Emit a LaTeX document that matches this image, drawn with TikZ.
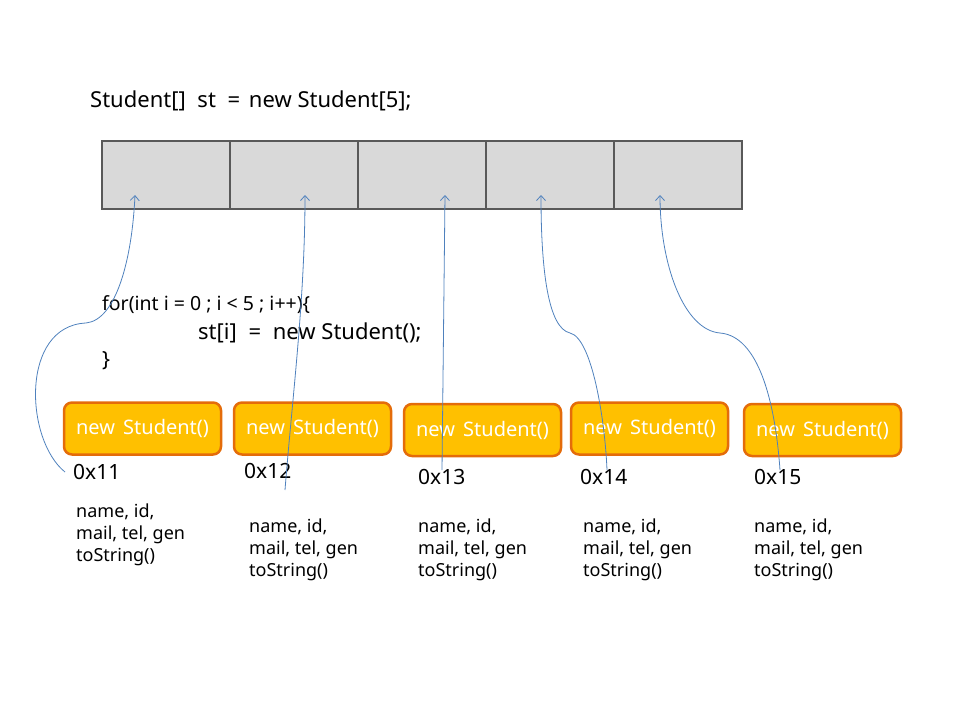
\documentclass[tikz,border=0pt]{standalone}
\usepackage{fontspec}
\setmainfont{Noto Sans}
\usetikzlibrary{arrows.meta}
\definecolor{cellfill}{RGB}{217,217,217}
\definecolor{cellborder}{RGB}{89,89,89}
\definecolor{objfill}{RGB}{255,192,0}
\definecolor{objborder}{RGB}{228,108,10}
\definecolor{refline}{RGB}{79,129,189}

\begin{document}
\begin{tikzpicture}[
                x=1pt, y=-1pt,
                >={Straight Barb[length=5pt, width=9pt]},
                codetext/.style={anchor=west, inner sep=0pt, font=\fontsize{21}{24}\selectfont},
                cell/.style={rectangle, draw=cellborder, fill=cellfill, line width=1.2pt, minimum width=128pt, minimum height=68pt, inner sep=0pt},
                objbox/.style={rectangle, rounded corners=8pt, draw=objborder, fill=objfill, line width=2.5pt, minimum width=157pt, minimum height=52pt, text=white, font=\fontsize{20}{22}\selectfont},
                addr/.style={anchor=west, inner sep=0pt, font=\fontsize{21}{24}\selectfont},
                members/.style={anchor=north west, inner sep=0pt, align=left, font=\fontsize{18}{22}\selectfont},
                ref/.style={->, draw=refline, line width=0.8pt}
                ]
                \useasboundingbox (0,0) rectangle (960,720);

                \node[codetext, font=\fontsize{22}{24}\selectfont] (decl) at (90,101) {Student[]\hspace{6pt} st\hspace{6pt} =\hspace{3pt} new Student[5];};

                % the array of five references
                \foreach \i/\x in {1/166,2/294,3/422,4/550,5/678}
                    \node[cell] (cell\i) at (\x,175) {};

                \node[codetext, font=\fontsize{19.5}{24}\selectfont] (loop) at (102,305) {for(int i = 0 ; i < 5 ; i++)\{};
                \node[codetext, font=\fontsize{22}{24}\selectfont] (assign) at (198,333) {st[i]\hspace{6pt} =\hspace{6pt} new Student();};
                \node[codetext] (close) at (102,361) {\}};

                % objects on the heap
                \node[objbox] (obj1) at (142.5,428.5) {new\hspace{3pt} Student()};
                \node[objbox] (obj2) at (312.5,428.5) {new\hspace{3pt} Student()};
                \node[objbox] (obj3) at (482.5,430) {new\hspace{3pt} Student()};
                \node[objbox] (obj4) at (649.5,428.5) {new\hspace{3pt} Student()};
                \node[objbox] (obj5) at (822.5,430) {new\hspace{3pt} Student()};

                \node[addr] (adr1) at (73,472) {0x11};
                \node[addr] (adr2) at (244,471) {0x12};
                \node[addr] (adr3) at (418,477) {0x13};
                \node[addr] (adr4) at (580,477) {0x14};
                \node[addr] (adr5) at (754,477) {0x15};

                \node[members] (mem1) at (76,504) {name, id,\\mail, tel, gen\\toString()};
                \node[members] (mem2) at (249,519) {name, id,\\mail, tel, gen\\toString()};
                \node[members] (mem3) at (418,519) {name, id,\\mail, tel, gen\\toString()};
                \node[members] (mem4) at (583,519) {name, id,\\mail, tel, gen\\toString()};
                \node[members] (mem5) at (754,519) {name, id,\\mail, tel, gen\\toString()};

                % reference ends
                \coordinate (from1) at (65,472);
                \coordinate (from2) at (285,490);
                \coordinate (from3) at (442,470);
                \coordinate (from4) at (607,470);
                \coordinate (from5) at (780,470);
                \coordinate (bend1) at (86,323);
                \coordinate (bend4) at (570,333);
                \coordinate (bend5) at (720,333);
                \coordinate (slot1) at (135,195);
                \coordinate (slot2) at (305,195);
                \coordinate (slot3) at (445,195);
                \coordinate (slot4) at (541,195);
                \coordinate (slot5) at (660,195);

                \draw[ref] (from1) .. controls (25,440) and (20,326) .. (bend1) .. controls (116,320) and (132,260) .. (slot1);
                \draw[ref] (from2) .. controls (292,400) and (305,300) .. (slot2);
                \draw[ref] (from3) -- (slot3);
                \draw[ref] (from4) .. controls (605,420) and (592,338) .. (bend4) .. controls (548,328) and (541,270) .. (slot4);
                \draw[ref] (from5) .. controls (775,400) and (758,336) .. (bend5) .. controls (684,330) and (660,265) .. (slot5);
            \end{tikzpicture}
\end{document}
